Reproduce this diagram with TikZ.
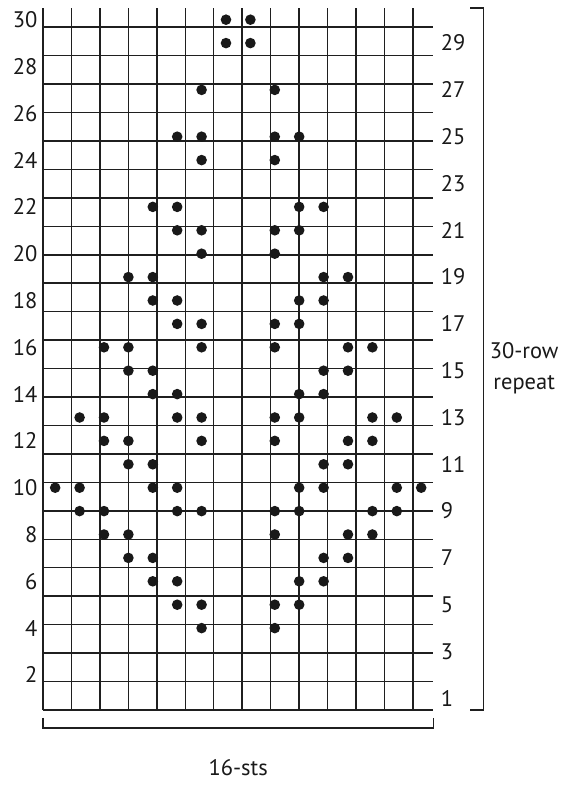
\documentclass[tikz,border=0pt]{standalone}
\usepackage{fontspec}
\setmainfont{PT Sans}
\begin{document}
\begin{tikzpicture}[x=24.4pt, y=23.4pt,
    gridline/.style={line width=1.5pt, black!88},
    bracket/.style={line width=1.1pt, black!88},
    stitch/.style={fill=black!90},
    lbl/.style={font=\fontsize{22.5}{31}\selectfont, inner sep=0pt, black!90}]
    \useasboundingbox (-1.762,-3.333) rectangle (21.189,30.342);

    % 网格 16 x 30
    \draw[gridline] (0,0) grid (16,30);

    % 行号：偶数在左，奇数在右
    \foreach \r in {2,4,...,30}
        \node[lbl, anchor=east] (left\r) at (-0.22,\r-0.5) {\r};
    \foreach \r in {1,3,...,29}
        \node[lbl, anchor=west] (right\r) at (16.3,\r-0.5) {\r};

    % 反针（行/列）
    \foreach \r/\cols in {30/{8,9}, 29/{8,9}, 27/{7,10}, 25/{6,7,10,11},
        24/{7,10}, 22/{5,6,11,12}, 21/{6,7,10,11}, 20/{7,10},
        19/{4,5,12,13}, 18/{5,6,11,12}, 17/{6,7,10,11},
        16/{3,4,7,10,13,14}, 15/{4,5,12,13}, 14/{5,6,11,12},
        13/{2,3,6,7,10,11,14,15}, 12/{3,4,7,10,13,14}, 11/{4,5,12,13},
        10/{1,2,5,6,11,12,15,16}, 9/{2,3,6,7,10,11,14,15},
        8/{3,4,10,13,14}, 7/{4,5,12,13}, 6/{5,6,11,12},
        5/{6,7,10,11}, 4/{7,10}}
        \foreach \c in \cols
            \fill[stitch] (\c-0.5,\r-0.5) circle (5.3pt);

    % 右侧括号
    \draw[bracket] (17.50,30) -- (18.07,30) -- (18.07,0) -- (17.50,0);
    \node[lbl, align=center] (repeat) at (19.72,14.6) {30-row\\repeat};

    % 底部括号
    \draw[bracket] (0,-0.34) -- (0,-0.77) -- (16,-0.77) -- (16,-0.34);
    \node[lbl] (sts) at (8,-2.48) {16-sts};
\end{tikzpicture}
\end{document}
